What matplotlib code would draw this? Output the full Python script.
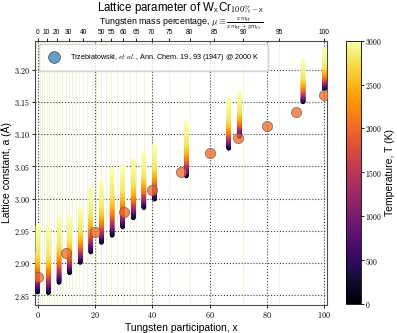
import numpy as np
import matplotlib
matplotlib.use("Agg")
import matplotlib.pyplot as plt
from matplotlib.lines import Line2D
from matplotlib.ticker import FuncFormatter
from matplotlib.cm import ScalarMappable

plt.rcParams['font.family'] = ['Liberation Sans', 'DejaVu Sans']
plt.rcParams['mathtext.fontset'] = 'cm'

# ---------------- data ----------------
# simulated compositions (atomic % W)
x_sim = [0.00, 3.70, 7.41, 11.11, 14.81, 18.52, 22.22, 25.93, 29.63, 33.33,
         37.04, 40.74, 51.85, 66.67, 70.37, 92.59, 100.00]
# temperatures (K) at which the lattice constant is listed
T_nodes = [0, 1000, 2000, 2500, 2800, 3000]
# lattice constant (Angstrom) for each composition at T_nodes
a_sim = [
    [2.855, 2.868, 2.886, 2.901, 2.916, 2.957],
    [2.854, 2.867, 2.884, 2.899, 2.913, 2.953],
    [2.870, 2.883, 2.900, 2.915, 2.929, 2.969],
    [2.885, 2.896, 2.910, 2.923, 2.935, 2.969],
    [2.901, 2.912, 2.926, 2.938, 2.951, 2.984],
    [2.917, 2.930, 2.946, 2.961, 2.975, 3.014],
    [2.932, 2.944, 2.959, 2.973, 2.987, 3.023],
    [2.943, 2.956, 2.974, 2.989, 3.005, 3.046],
    [2.956, 2.968, 2.985, 2.999, 3.013, 3.051],
    [2.970, 2.982, 2.997, 3.010, 3.023, 3.059],
    [2.986, 2.997, 3.011, 3.024, 3.036, 3.070],
    [2.999, 3.010, 3.024, 3.036, 3.049, 3.082],
    [3.035, 3.046, 3.060, 3.072, 3.085, 3.118],
    [3.078, 3.088, 3.101, 3.112, 3.123, 3.153],
    [3.096, 3.105, 3.116, 3.126, 3.136, 3.163],
    [3.150, 3.158, 3.169, 3.179, 3.188, 3.214],
    [3.170, 3.178, 3.188, 3.197, 3.206, 3.230],
]
# experimental reference (Trzebiatowski et al.) at 2000 K
x_ref = [0, 10, 20, 30, 40, 50, 60, 70, 80, 90, 100]
a_ref = [2.878, 2.916, 2.948, 2.980, 3.013, 3.042, 3.071, 3.094, 3.113, 3.134, 3.160]
T_ref = 2000

# top axis: W mass percentage
mass_major = [0, 10, 20, 30, 40, 50, 55, 60, 65, 70, 75, 80, 85, 90, 95, 100]
mass_lines = [0, 2.5, 5, 7.5, 10, 12.5, 15, 17.5, 20, 22.5, 25, 27.5, 30, 32.5, 35,
              37.5, 40, 42.5, 45, 47.5, 50, 52.5, 55, 57.5, 60, 62.5, 65, 67.5, 70,
              75, 80, 85, 90, 95, 100]
M_W, M_Cr = 183.84, 51.996

bottom_ticks = [0, 20, 40, 60, 80, 100]
y_ticks = [2.85, 2.90, 2.95, 3.00, 3.05, 3.10, 3.15, 3.20]
cb_ticks = [0, 500, 1000, 1500, 2000, 2500, 3000]


def mass_to_atomic(mu):
    mu = np.asarray(mu, dtype=float)
    nW = mu / M_W
    nCr = (100.0 - mu) / M_Cr
    return 100.0 * nW / (nW + nCr)


# ---------------- figure ----------------
fig = plt.figure(figsize=(3.97, 3.33), dpi=100)
ax = fig.add_axes([0.088, 0.084, 0.736, 0.794])
cax = fig.add_axes([0.871, 0.087, 0.038, 0.791])

cmap = plt.get_cmap('inferno')
norm = plt.Normalize(0, 3000)

# faint composition lines (mass % grid)
for m in mass_lines:
    ax.axvline(float(mass_to_atomic(m)), color='#f2f4cc', lw=0.6, zorder=0.5)

# simulated thermal expansion bars (dense markers along T)
for xv, avals in zip(x_sim, a_sim):
    Ts, As = [], []
    for i in range(len(T_nodes) - 1):
        s = np.linspace(0, 1, 25, endpoint=False)
        Ts.extend(T_nodes[i] + s * (T_nodes[i + 1] - T_nodes[i]))
        As.extend(avals[i] + s * (avals[i + 1] - avals[i]))
    Ts.append(T_nodes[-1])
    As.append(avals[-1])
    ax.scatter(np.full(len(Ts), xv), As, c=Ts, cmap=cmap, norm=norm, s=10,
               edgecolors='none', zorder=3)

# experimental reference points
ax.scatter(x_ref, a_ref, s=55, color=cmap(norm(T_ref)), alpha=0.75,
           edgecolors='0.3', linewidths=0.5, zorder=5)

ax.set_xlim(-1, 101)
ax.set_ylim(2.835, 3.245)
ax.set_xticks(bottom_ticks)
ax.set_yticks(y_ticks)
ax.xaxis.set_major_formatter(FuncFormatter(lambda v, p: r'$%d$' % round(v)))
ax.yaxis.set_major_formatter(FuncFormatter(lambda v, p: r'$%.2f$' % v))
ax.tick_params(labelsize=5.8, length=2, pad=1.5, width=0.6)
ax.grid(True, ls=':', color='0.25', lw=0.8, zorder=1)
for sp in ax.spines.values():
    sp.set_linewidth(0.8)
    sp.set_color('0.3')

ax.set_xlabel('Tungsten participation, x', fontsize=7.5, labelpad=2)
ax.set_ylabel('Lattice constant, a (Å)', fontsize=7.5, labelpad=1.5)

handle = Line2D([], [], marker='o', ls='none', markersize=8.5,
                markerfacecolor=(0.12, 0.47, 0.71, 0.7), markeredgecolor='0.3',
                markeredgewidth=0.5)
leg = ax.legend([handle],
                [r'Trzebiatowski, $\it{et\ al.}$, Ann. Chem. 19, 93 (1947) @ 2000 K'],
                loc='upper left', fontsize=5.2, borderpad=1.1, handletextpad=1.3,
                framealpha=0.8)
leg.set_zorder(10)

# top axis with mass percentage
ax2 = ax.twiny()
ax2.set_xlim(ax.get_xlim())
ax2.set_xticks(mass_to_atomic(mass_major))
ax2.set_xticklabels([str(m) for m in mass_major])
ax2.tick_params(labelsize=4.8, length=2, pad=1, width=0.6)
for sp in ax2.spines.values():
    sp.set_visible(False)

fig.text(0.456, 0.907,
         r'Tungsten mass percentage, $\mu \equiv \frac{x m_W}{x m_W + y m_{Cr}}$',
         ha='center', va='bottom', fontsize=6.4)

fig.text(0.456, 0.999, r'Lattice parameter of W$_\mathsf{x}$Cr$_\mathsf{100\%-x}$',
         ha='center', va='top', fontsize=8.3)

# colorbar
cb = fig.colorbar(ScalarMappable(norm=norm, cmap=cmap), cax=cax)
cb.set_ticks(cb_ticks)
cb.ax.yaxis.set_major_formatter(FuncFormatter(lambda v, p: r'$%d$' % round(v)))
cb.ax.tick_params(labelsize=5.5, length=2, pad=1, width=0.6)
cb.outline.set_linewidth(0.6)
cb.set_label('Temperature, T (K)', fontsize=7.5, labelpad=2)

fig.savefig('out.png', dpi=100)
